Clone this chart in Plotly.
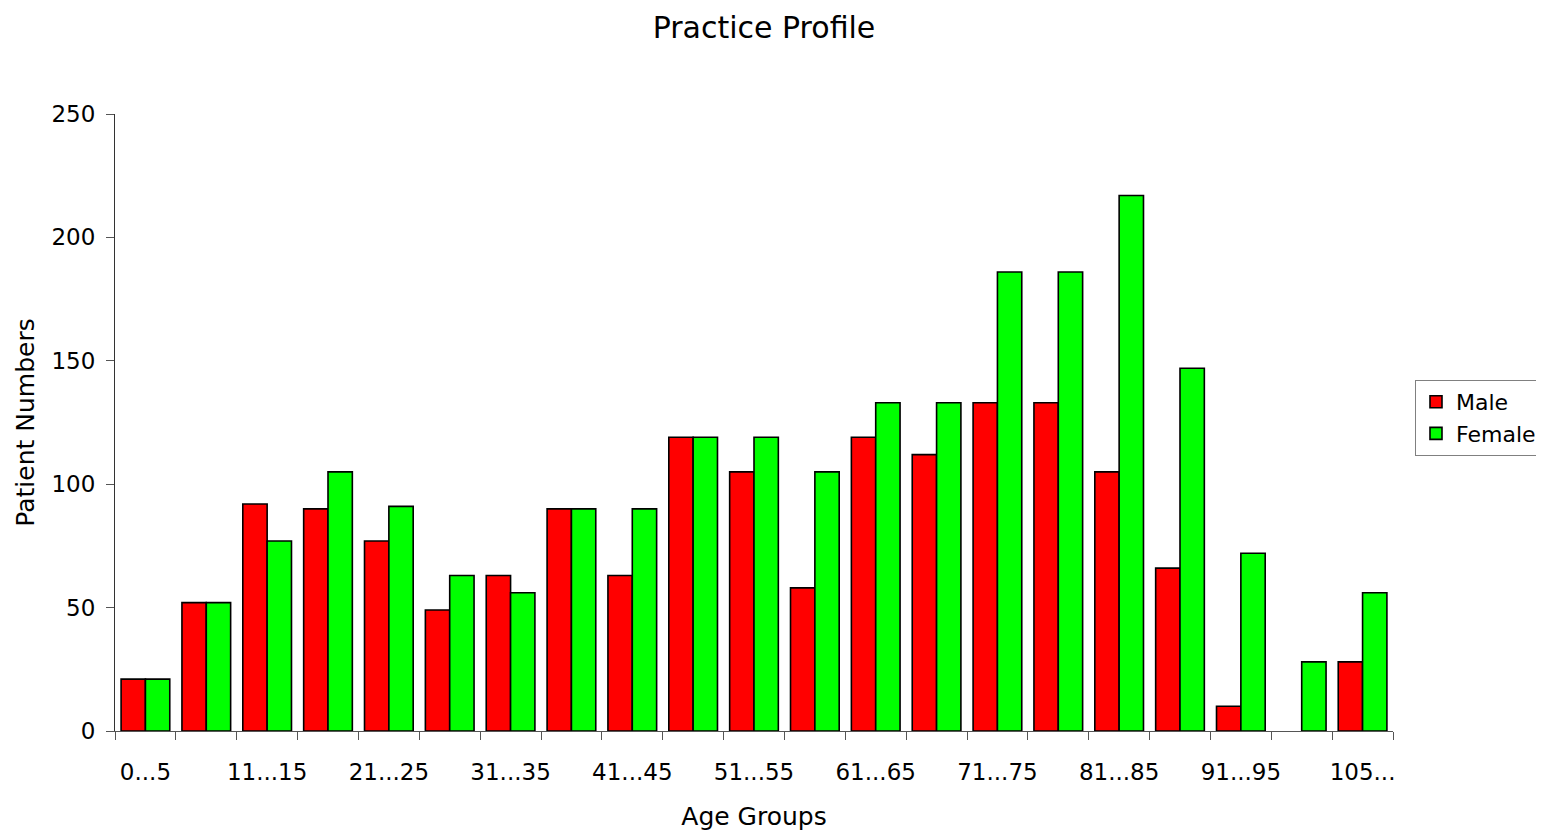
import plotly.graph_objects as go

categories = ["0...5", "6...10", "11...15", "16...20", "21...25", "26...30", "31...35",
              "36...40", "41...45", "46...50", "51...55", "56...60", "61...65", "66...70",
              "71...75", "76...80", "81...85", "86...90", "91...95", "96...100", "105..."]
male = [21, 52, 92, 90, 77, 49, 63, 90, 63, 119, 105, 58, 119, 112, 133, 133, 105, 66, 10, 0, 28]
female = [21, 52, 77, 105, 91, 63, 56, 90, 90, 119, 119, 105, 133, 133, 186, 186, 217, 147, 72, 28, 56]
tick_text = [c if i % 2 == 0 else "" for i, c in enumerate(categories)]
y_ticks = [0, 50, 100, 150, 200, 250]

FONT = "DejaVu Sans"
OFF = 8  # page body margin


def outline(vals):
    return [0 if v == 0 else 1.6 for v in vals]


fig = go.Figure()
fig.add_bar(x=categories, y=male, name="Male",
            marker=dict(color="#FF0000", line=dict(color="black", width=outline(male))))
fig.add_bar(x=categories, y=female, name="Female",
            marker=dict(color="#00FF00", line=dict(color="black", width=outline(female))))

fig.update_layout(
    width=1544, height=832,
    paper_bgcolor="white", plot_bgcolor="white",
    margin=dict(l=115 - OFF, r=151 + OFF, t=114 - OFF, b=101 + OFF, autoexpand=False),
    barmode="group", bargap=0.2, bargroupgap=0,
    font=dict(family=FONT, color="black", size=23),
    title=dict(text="Practice Profile", font=dict(family=FONT, size=30, color="black"),
               x=(764 - OFF) / 1544, xref="container", xanchor="center",
               y=1, yref="container", yanchor="top", pad=dict(t=9, b=0)),
    legend=dict(xref="container", yref="container", x=(1415 - OFF) / 1544, xanchor="left",
                y=1 - (418 - OFF) / 832, yanchor="middle",
                bordercolor="#808080", borderwidth=1, bgcolor="white",
                itemwidth=30, tracegroupgap=0,
                font=dict(family=FONT, size=22, color="black")),
    xaxis=dict(type="category", range=[-0.5, 20.5], tickmode="array",
               tickvals=categories, ticktext=tick_text, tickson="boundaries",
               tickangle=0, automargin=False,
               ticks="outside", ticklen=8, tickcolor="#555555", tickwidth=1,
               showline=True, linecolor="#555555", linewidth=1, showgrid=False,
               ticklabelstandoff=20,
               tickfont=dict(family=FONT, size=23, color="black"),
               title=dict(text="Age Groups", font=dict(family=FONT, size=25, color="black"),
                          standoff=23)),
    yaxis=dict(range=[0, 250], tickvals=y_ticks, ticks="outside", ticklen=8,
               automargin=False,
               tickcolor="#555555", tickwidth=1, showline=True, linecolor="#333333",
               linewidth=1, showgrid=False, zeroline=False, ticklabelstandoff=6,
               tickfont=dict(family=FONT, size=23, color="black"),
               title=dict(text="Patient Numbers", font=dict(family=FONT, size=25, color="black"),
                          standoff=9)),
)

fig.write_html("out.html")
